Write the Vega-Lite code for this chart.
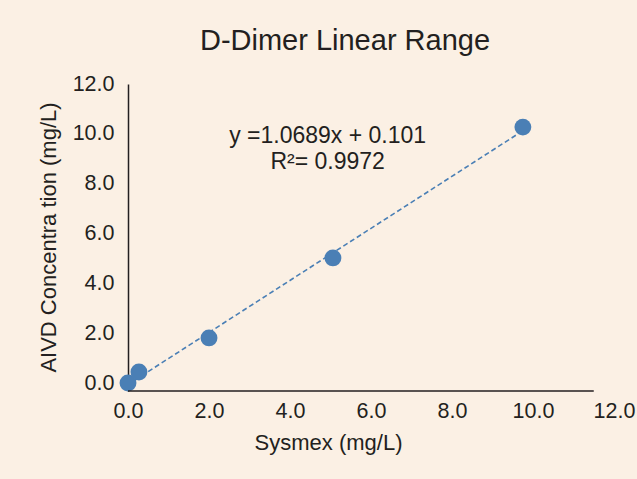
{
  "$schema": "https://vega.github.io/schema/vega-lite/v6.json",
  "width": 486,
  "height": 307,
  "autosize": {"type": "none"},
  "padding": {"left": 128, "top": 84, "right": 23, "bottom": 88},
  "background": "#fbf0e4",
  "config": {"view": {"stroke": null}, "font": "Liberation Sans"},
  "title": {
    "text": "D-Dimer Linear Range",
    "fontSize": 29,
    "fontWeight": "normal",
    "color": "#231f20",
    "anchor": "middle",
    "frame": "group",
    "dx": -26,
    "baseline": "alphabetic",
    "offset": -6
  },
  "data": {
    "values": [
      {"Sysmex": 0.0, "AIVD": 0.0},
      {"Sysmex": 0.27, "AIVD": 0.44},
      {"Sysmex": 2.0, "AIVD": 1.81},
      {"Sysmex": 5.06, "AIVD": 5.02},
      {"Sysmex": 9.75, "AIVD": 10.27}
    ]
  },
  "layer": [
    {
      "transform": [{"regression": "AIVD", "on": "Sysmex", "extent": [0, 9.75]}],
      "mark": {"type": "line", "strokeDash": [5, 3], "color": "#4a7fb5", "strokeWidth": 1.6},
      "encoding": {
        "x": {"field": "Sysmex", "type": "quantitative"},
        "y": {"field": "AIVD", "type": "quantitative"}
      }
    },
    {
      "mark": {"type": "circle", "size": 285, "opacity": 1, "color": "#4a7fb5"},
      "encoding": {
        "x": {
          "field": "Sysmex",
          "type": "quantitative",
          "scale": {"domain": [0, 12], "nice": false, "zero": false},
          "axis": {
            "title": "Sysmex (mg/L)",
            "values": [0, 2, 4, 6, 8, 10, 12],
            "format": ".1f",
            "domain": false,
            "ticks": false,
            "grid": false,
            "labelFontSize": 21.5,
            "labelColor": "#231f20",
            "labelPadding": 9,
            "labelFlush": false,
            "titleFontSize": 22,
            "titleFontWeight": "normal",
            "titleColor": "#231f20",
            "titleX": 200,
            "titleY": 51,
            "titleBaseline": "middle",
            "titleAlign": "center"
          }
        },
        "y": {
          "field": "AIVD",
          "type": "quantitative",
          "scale": {"domain": [-0.32, 12], "nice": false, "zero": false},
          "axis": {
            "title": "AIVD Concentra tion (mg/L)",
            "values": [0, 2, 4, 6, 8, 10, 12],
            "format": ".1f",
            "domain": true,
            "domainColor": "#231f20",
            "domainWidth": 1.5,
            "ticks": false,
            "grid": false,
            "labelFontSize": 21.5,
            "labelColor": "#231f20",
            "labelPadding": 14,
            "labelFlush": false,
            "titleFontSize": 22,
            "titleFontWeight": "normal",
            "titleColor": "#231f20",
            "titleAngle": -90,
            "titleX": -80,
            "titleY": 153,
            "titleBaseline": "middle",
            "titleAlign": "center"
          }
        }
      }
    },
    {
      "data": {"values": [{}]},
      "mark": {"type": "text", "fontSize": 23, "color": "#231f20", "align": "center", "baseline": "middle", "lineHeight": 26},
      "encoding": {
        "x": {"datum": 4.93},
        "y": {"datum": 9.91},
        "text": {"value": ["y =1.0689x + 0.101", "R²= 0.9972"]}
      }
    },
    {
      "data": {"values": [{}]},
      "mark": {"type": "rule", "color": "#231f20", "strokeWidth": 1.5},
      "encoding": {
        "x": {"datum": 0},
        "x2": {"datum": 11.5},
        "y": {"datum": -0.32}
      }
    }
  ]
}
